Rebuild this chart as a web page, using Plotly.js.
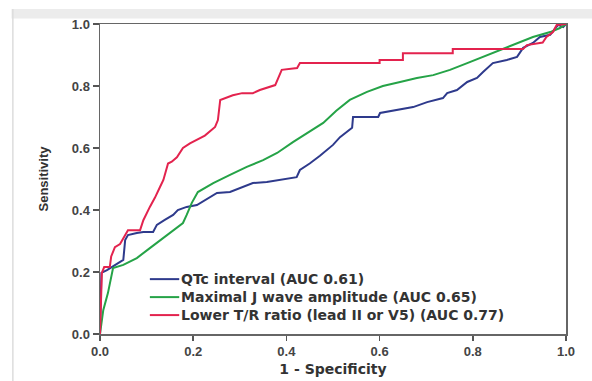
<!DOCTYPE html>
<html>
<head>
<meta charset="utf-8">
<script src="https://cdn.plot.ly/plotly-3.0.1.min.js"></script>
<style>html,body{margin:0;padding:0;background:#fff;}#chart{width:592px;height:381px;}</style>
</head>
<body>
<div id="chart"></div>
<script>
// Series names
const seriesNames = [
  "QTc interval (AUC 0.61)",
  "Maximal J wave amplitude (AUC 0.65)",
  "Lower T/R ratio (lead II or V5) (AUC 0.77)"
];

// QTc interval (blue)
const qtcX = [0,0.003,0.015,0.026,0.039,0.05,0.054,0.06,0.079,0.093,0.114,0.122,0.139,0.157,0.167,0.186,0.208,0.225,0.251,0.279,0.30,0.328,0.358,0.386,0.408,0.422,0.429,0.45,0.472,0.50,0.515,0.541,0.543,0.597,0.601,0.637,0.672,0.702,0.736,0.745,0.766,0.788,0.809,0.822,0.843,0.873,0.895,0.908,0.929,0.944,0.966,0.983,0.994,1];
const qtcY = [0,0.197,0.206,0.216,0.229,0.239,0.303,0.319,0.326,0.329,0.329,0.352,0.368,0.384,0.40,0.41,0.416,0.432,0.455,0.458,0.471,0.487,0.49,0.497,0.503,0.506,0.529,0.55,0.575,0.61,0.635,0.665,0.70,0.70,0.713,0.723,0.732,0.748,0.761,0.777,0.787,0.813,0.826,0.845,0.874,0.884,0.894,0.923,0.939,0.958,0.965,0.997,0.99,1];

// Maximal J wave amplitude (green)
const jwX = [0,0.007,0.017,0.026,0.028,0.05,0.079,0.107,0.136,0.165,0.178,0.186,0.197,0.21,0.243,0.279,0.315,0.35,0.38,0.414,0.45,0.479,0.507,0.536,0.573,0.607,0.644,0.68,0.715,0.751,0.788,0.822,0.858,0.895,0.929,0.966,0.987,1];
const jwY = [0,0.077,0.132,0.197,0.213,0.223,0.245,0.277,0.31,0.342,0.358,0.384,0.423,0.458,0.487,0.513,0.539,0.561,0.584,0.619,0.652,0.681,0.72,0.755,0.781,0.80,0.813,0.826,0.835,0.852,0.874,0.894,0.916,0.939,0.958,0.974,0.987,1];

// Lower T/R ratio (red)
const trX = [0,0.002,0.004,0.009,0.021,0.024,0.032,0.043,0.05,0.06,0.086,0.093,0.107,0.118,0.129,0.136,0.146,0.154,0.165,0.178,0.193,0.208,0.225,0.247,0.253,0.258,0.268,0.285,0.305,0.328,0.343,0.358,0.376,0.39,0.423,0.429,0.60,0.60,0.65,0.65,0.757,0.757,0.908,0.916,0.95,0.958,0.972,0.98,1];
const trY = [0,0.10,0.197,0.216,0.216,0.25,0.28,0.29,0.31,0.335,0.335,0.367,0.41,0.44,0.475,0.497,0.55,0.556,0.57,0.60,0.615,0.626,0.64,0.668,0.69,0.755,0.76,0.77,0.777,0.777,0.787,0.794,0.803,0.852,0.858,0.874,0.874,0.884,0.884,0.906,0.906,0.919,0.919,0.932,0.94,0.958,0.974,0.997,1];

// Axis ticks
const tickVals = [0,0.2,0.4,0.6,0.8,1.0];
const tickText = ["0.0","0.2","0.4","0.6","0.8","1.0"];

const colors = ["#2e3a8c","#25a347","#e3234e"];
const xs = [qtcX, jwX, trX];
const ys = [qtcY, jwY, trY];

const traces = seriesNames.map((n,i)=>({
  x: xs[i], y: ys[i], name: n, type: "scatter", mode: "lines",
  line: {color: colors[i], width: 2}
}));

// Legend drawn inside the plot (compact rows like the original)
const legFont = {family: "DejaVu Sans, sans-serif", size: 14, color: "#333", weight: "bold"};
const legRowY = [0.177, 0.119, 0.061];
const legendShapes = seriesNames.map((n,i)=>({
  type: "line", xref: "paper", yref: "paper",
  x0: 0.107, x1: 0.170, y0: legRowY[i], y1: legRowY[i],
  line: {color: colors[i], width: 2}
}));
const legendAnn = seriesNames.map((n,i)=>({
  xref: "paper", yref: "paper", x: 0.172, y: legRowY[i],
  xanchor: "left", yanchor: "middle", text: n, showarrow: false, font: legFont, borderpad: 0
}));

const tickFont = {family: "Liberation Sans, Arial, sans-serif", size: 13, color: "#444", weight: "bold"};

const layout = {
  width: 592, height: 381,
  margin: {l: 100, r: 26, t: 24, b: 47},
  paper_bgcolor: "#ffffff", plot_bgcolor: "#ffffff",
  showlegend: false,
  xaxis: {
    range: [0, 1], tickvals: tickVals, ticktext: tickText,
    showgrid: false, zeroline: false,
    showline: true, linecolor: "#666", linewidth: 1.5, mirror: true,
    ticks: "outside", ticklen: 5, tickcolor: "#555", tickwidth: 1.5,
    tickfont: tickFont,
    title: {text: "1 - Specificity", standoff: 6, font: {family: "DejaVu Sans, sans-serif", size: 14, color: "#333", weight: "bold"}}
  },
  yaxis: {
    range: [0, 1], tickvals: tickVals, ticktext: tickText,
    showgrid: false, zeroline: false,
    showline: true, linecolor: "#666", linewidth: 1.5, mirror: true,
    ticks: "outside", ticklen: 6, tickcolor: "#555", tickwidth: 1.5,
    tickfont: tickFont,
    title: {text: "Sensitivity", standoff: 20, font: {family: "Liberation Sans Narrow, Liberation Sans, sans-serif", size: 13, color: "#333", weight: "bold"}}
  },
  annotations: legendAnn,
  shapes: [
    {type: "rect", xref: "paper", yref: "paper", x0: -0.19, x1: 1.06, y0: 1.018, y1: 1.048, fillcolor: "#ececec", line: {width: 0}, layer: "below"},
    {type: "line", xref: "paper", yref: "paper", x0: -0.187, x1: -0.187, y0: -0.152, y1: 1.048, line: {color: "#dddddd", width: 1.5}, layer: "below"}
  ].concat(legendShapes)
};

Plotly.newPlot("chart", traces, layout, {displayModeBar: false, staticPlot: true});
</script>
</body>
</html>
